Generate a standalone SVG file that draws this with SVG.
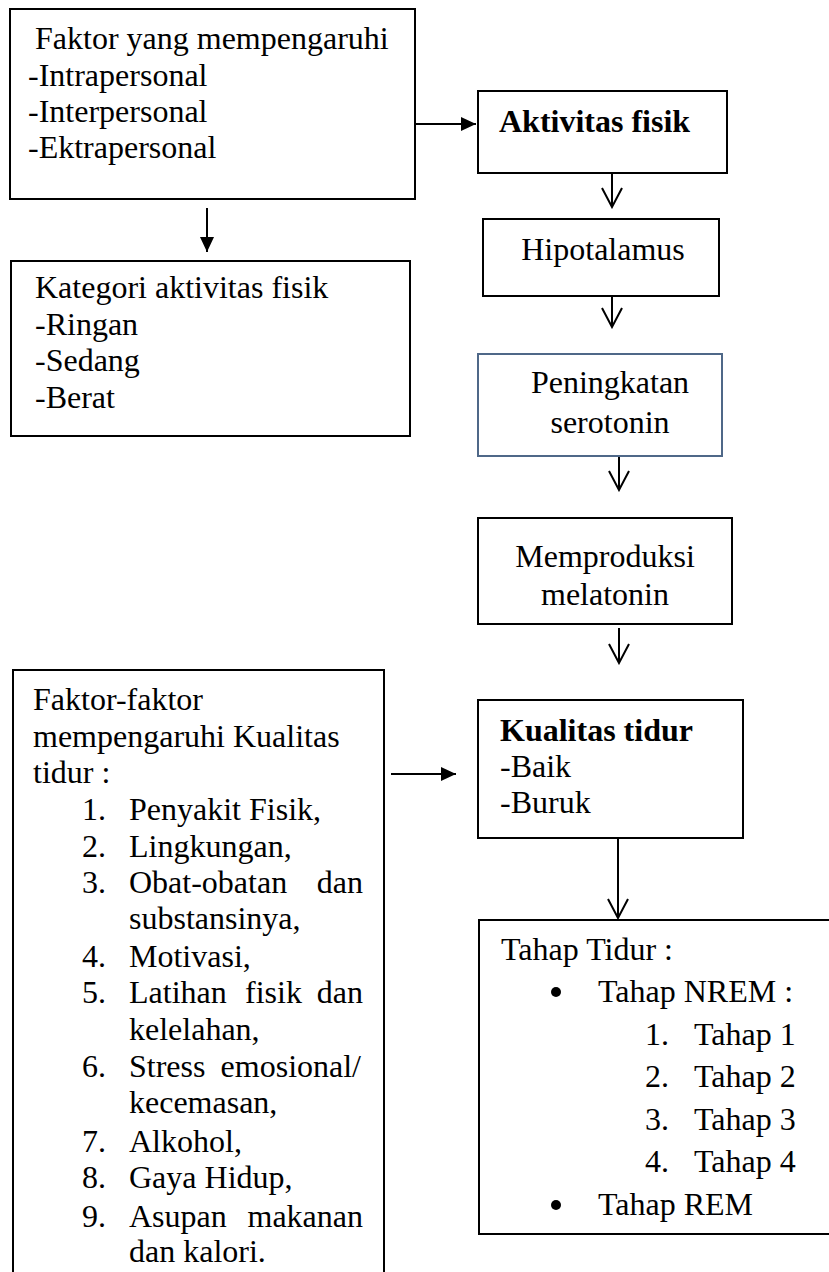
<svg xmlns="http://www.w3.org/2000/svg" width="829" height="1272" viewBox="0 0 829 1272">
<style>
  .box { fill: #ffffff; stroke: #000000; stroke-width: 2; }
  .blue { stroke: #4f6888; }
  .t { font-family: "Liberation Serif", "Times New Roman", serif; font-size: 32px; fill: #000000; }
  .b { font-weight: bold; }
  .c { text-anchor: middle; }
  .e { text-anchor: end; }
  .ln { fill: none; stroke: #000000; stroke-width: 2; }
  .open { marker-end: url(#vopen); }
  .solid { marker-end: url(#tri); }
</style>
<defs>
  <marker id="vopen" markerUnits="userSpaceOnUse" viewBox="-22 -12 24 24" markerWidth="24" markerHeight="24" refX="0" refY="0" orient="auto">
    <path d="M-19,-10 L0,0 L-19,10" fill="none" stroke="#000000" stroke-width="2"/>
  </marker>
  <marker id="tri" markerUnits="userSpaceOnUse" viewBox="-16 -9 18 18" markerWidth="18" markerHeight="18" refX="0" refY="0" orient="auto">
    <path d="M-15,-7 L0,0 L-15,7 Z" fill="#000000"/>
  </marker>
</defs>
<rect width="829" height="1272" fill="#ffffff"/>

<g id="connectors">
  <path class="ln solid" d="M413,124 L476,124"/>
  <path class="ln solid" d="M207,208 L207,252"/>
  <path class="ln solid" d="M391,774 L456,774"/>
  <path class="ln open" d="M612,173 L612,207"/>
  <path class="ln open" d="M612,296 L612,327"/>
  <path class="ln open" d="M619,456 L619,490"/>
  <path class="ln open" d="M619,628 L619,663"/>
  <path class="ln open" d="M618,838 L618,918"/>
</g>

<g id="faktor-pengaruh">
  <rect class="box" x="10" y="9" width="405" height="190"/>
  <text class="t" x="35" y="49">Faktor yang mempengaruhi</text>
  <text class="t" x="28" y="86">-Intrapersonal</text>
  <text class="t" x="28" y="122">-Interpersonal</text>
  <text class="t" x="28" y="158">-Ektrapersonal</text>
</g>

<g id="kategori">
  <rect class="box" x="11" y="261" width="399" height="175"/>
  <text class="t" x="35" y="298">Kategori aktivitas fisik</text>
  <text class="t" x="35" y="335">-Ringan</text>
  <text class="t" x="35" y="371">-Sedang</text>
  <text class="t" x="35" y="408">-Berat</text>
</g>

<g id="aktivitas">
  <rect class="box" x="478" y="91" width="249" height="82"/>
  <text class="t b" x="499" y="132">Aktivitas fisik</text>
</g>

<g id="hipotalamus">
  <rect class="box" x="483" y="219" width="236" height="77"/>
  <text class="t c" x="603" y="260">Hipotalamus</text>
</g>

<g id="serotonin">
  <rect class="box blue" x="478" y="354" width="244" height="102"/>
  <text class="t c" x="610" y="393">Peningkatan</text>
  <text class="t c" x="610" y="433">serotonin</text>
</g>

<g id="melatonin">
  <rect class="box" x="478" y="518" width="254" height="106" stroke-width="2.5"/>
  <text class="t c" x="605" y="567">Memproduksi</text>
  <text class="t c" x="605" y="605">melatonin</text>
</g>

<g id="kualitas">
  <rect class="box" x="478" y="700" width="265" height="138"/>
  <text class="t b" x="500" y="741">Kualitas tidur</text>
  <text class="t" x="500" y="777">-Baik</text>
  <text class="t" x="500" y="813">-Buruk</text>
</g>

<g id="faktor-tidur">
  <rect class="box" x="13" y="670" width="371" height="620"/>
  <text class="t" x="33" y="710">Faktor-faktor</text>
  <text class="t" x="33" y="747">mempengaruhi Kualitas</text>
  <text class="t" x="33" y="783">tidur :</text>
  <text class="t" x="82" y="820">1.</text><text class="t" x="129" y="820">Penyakit Fisik,</text>
  <text class="t" x="82" y="857">2.</text><text class="t" x="129" y="857">Lingkungan,</text>
  <text class="t" x="82" y="893">3.</text><text class="t" x="129" y="893">Obat-obatan</text><text class="t e" x="363" y="893">dan</text>
  <text class="t" x="129" y="929">substansinya,</text>
  <text class="t" x="82" y="967">4.</text><text class="t" x="129" y="967">Motivasi,</text>
  <text class="t" x="82" y="1003">5.</text><text class="t" x="129" y="1003">Latihan</text><text class="t" x="245" y="1003">fisik</text><text class="t e" x="363" y="1003">dan</text>
  <text class="t" x="129" y="1040">kelelahan,</text>
  <text class="t" x="82" y="1077">6.</text><text class="t" x="129" y="1077">Stress</text><text class="t e" x="361" y="1077">emosional/</text>
  <text class="t" x="129" y="1113">kecemasan,</text>
  <text class="t" x="82" y="1152">7.</text><text class="t" x="129" y="1152">Alkohol,</text>
  <text class="t" x="82" y="1188">8.</text><text class="t" x="129" y="1188">Gaya Hidup,</text>
  <text class="t" x="82" y="1227">9.</text><text class="t" x="129" y="1227">Asupan</text><text class="t e" x="363" y="1227">makanan</text>
  <text class="t" x="129" y="1262">dan kalori.</text>
</g>

<g id="tahap-tidur">
  <rect class="box" x="479" y="920" width="360" height="314"/>
  <text class="t" x="501" y="960">Tahap Tidur :</text>
  <circle cx="556" cy="992" r="5" fill="#000000"/>
  <text class="t" x="598" y="1002">Tahap NREM :</text>
  <text class="t" x="645" y="1045">1.</text><text class="t" x="694" y="1045">Tahap 1</text>
  <text class="t" x="645" y="1087">2.</text><text class="t" x="694" y="1087">Tahap 2</text>
  <text class="t" x="645" y="1130">3.</text><text class="t" x="694" y="1130">Tahap 3</text>
  <text class="t" x="645" y="1172">4.</text><text class="t" x="694" y="1172">Tahap 4</text>
  <circle cx="556" cy="1205" r="5" fill="#000000"/>
  <text class="t" x="598" y="1215">Tahap REM</text>
</g>
</svg>
